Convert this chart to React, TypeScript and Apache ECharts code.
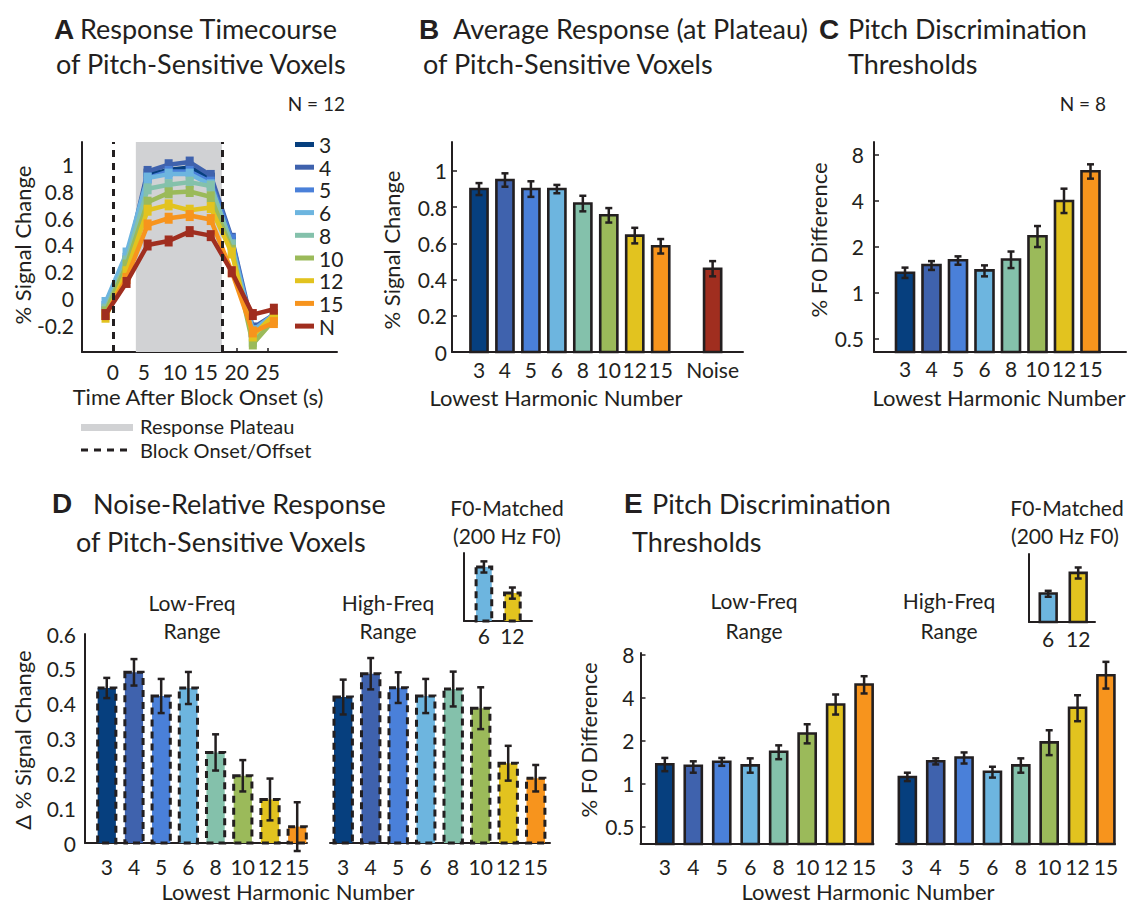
import React, { useEffect, useRef } from 'react';
import * as echarts from 'echarts';

// ---------- shared ----------
const harmonics = ['3', '4', '5', '6', '8', '10', '12', '15'];
const palette = ['#063f7e', '#3f62ad', '#4a80d9', '#6db5df', '#84c1ab', '#9bba5a', '#e2c31f', '#f7941d'];
const noiseColor = '#a02e1f';

// ---------- Panel A: timecourse ----------
const timeSec = [-1.2, 2.2, 5.6, 9.0, 12.4, 15.8, 19.2, 22.6, 26.0];
const timecourseNames = ['3', '4', '5', '6', '8', '10', '12', '15', 'N'];
const tc3 = [-0.12, 0.25, 0.93, 0.96, 0.98, 0.9, 0.42, -0.25, -0.12];
const tc4 = [-0.1, 0.28, 0.95, 1.0, 1.02, 0.92, 0.45, -0.22, -0.12];
const tc5 = [-0.06, 0.3, 0.9, 0.95, 0.95, 0.87, 0.44, -0.25, -0.14];
const tc6 = [-0.03, 0.34, 0.9, 0.93, 0.93, 0.85, 0.4, -0.24, -0.12];
const tc8 = [-0.08, 0.28, 0.82, 0.85, 0.87, 0.84, 0.4, -0.32, -0.15];
const tc10 = [-0.1, 0.25, 0.72, 0.79, 0.8, 0.76, 0.36, -0.34, -0.16];
const tc12 = [-0.14, 0.2, 0.66, 0.7, 0.66, 0.68, 0.34, -0.28, -0.12];
const tc15 = [-0.12, 0.15, 0.55, 0.6, 0.62, 0.59, 0.2, -0.25, -0.18];
const tcN = [-0.12, 0.12, 0.4, 0.43, 0.5, 0.47, 0.2, -0.12, -0.08];
const timecourses = [tc3, tc4, tc5, tc6, tc8, tc10, tc12, tc15, tcN];
const plateauStart = 3.7;
const plateauEnd = 17.6;
const blockOnset = 0;
const blockOffset = 17.6;
const timeTicks = [0, 5, 10, 15, 20, 25];

// ---------- Panel B: average response ----------
const bCategories = [...harmonics, 'Noise'];
const bValues = [0.9, 0.95, 0.9, 0.9, 0.82, 0.755, 0.643, 0.584, 0.46];
const bErr = [0.033, 0.037, 0.043, 0.023, 0.043, 0.04, 0.043, 0.04, 0.042];

// ---------- Panel C: thresholds ----------
const cValues = [1.35, 1.52, 1.63, 1.4, 1.65, 2.34, 3.98, 6.22];
const cLow = [1.25, 1.41, 1.525, 1.28, 1.45, 1.99, 3.32, 5.57];
const cHigh = [1.46, 1.61, 1.73, 1.51, 1.86, 2.73, 4.79, 6.91];

// ---------- Panel D: noise-relative response ----------
const dLowValues = [0.445, 0.49, 0.422, 0.445, 0.26, 0.193, 0.125, 0.047];
const dLowErr = [0.029, 0.038, 0.049, 0.046, 0.052, 0.045, 0.06, 0.07];
const dHighValues = [0.419, 0.486, 0.446, 0.422, 0.442, 0.387, 0.229, 0.186];
const dHighErr = [0.05, 0.045, 0.044, 0.049, 0.05, 0.06, 0.05, 0.038];
const insetCategories = ['6', '12'];
const insetColorIdx = [3, 6];
const dInsetValues = [0.155, 0.08];
const dInsetErr = [0.016, 0.016];

// ---------- Panel E: thresholds by range ----------
const eLowValues = [1.365, 1.33, 1.42, 1.34, 1.67, 2.24, 3.57, 4.93];
const eLowLo = [1.22, 1.19, 1.33, 1.19, 1.48, 1.91, 3.04, 4.27];
const eLowHi = [1.51, 1.43, 1.51, 1.5, 1.85, 2.6, 4.2, 5.64];
const eHighValues = [1.11, 1.43, 1.52, 1.21, 1.34, 1.94, 3.39, 5.73];
const eHighLo = [1.04, 1.36, 1.38, 1.1, 1.19, 1.58, 2.73, 4.62];
const eHighHi = [1.19, 1.5, 1.65, 1.31, 1.5, 2.36, 4.15, 7.11];
const eInsetValues = [1.58, 2.2];
const eInsetLo = [1.5, 2.01];
const eInsetHi = [1.65, 2.4];

// ---------- helpers ----------
const INK = '#231f20';
const FONT = 'Lato';
const TICK_FONT = 21;

const bSlots = bCategories.map((_, i) => (i < harmonics.length ? i : i + 1));
const harmColors = palette;
const bColors = [...palette, noiseColor];
const insetColors = insetColorIdx.map((i) => palette[i]);

function barRender(colors: string[], widthUnits: number, dashed: boolean) {
  return (params: any, api: any) => {
    const i = params.dataIndex;
    const x = api.value(0);
    const v = api.value(1);
    const cs = params.coordSys;
    const l = api.coord([x - widthUnits / 2, v]);
    const r = api.coord([x + widthUnits / 2, v]);
    const bottom = cs.y + cs.height;
    const shape = { x: l[0], y: l[1], width: r[0] - l[0], height: bottom - l[1] };
    if (dashed) {
      return {
        type: 'group',
        children: [
          { type: 'rect', shape, style: { fill: colors[i] } },
          {
            type: 'rect',
            shape,
            style: { fill: 'none', stroke: INK, lineWidth: 3, lineDash: [7, 5] },
          },
        ],
      };
    }
    return { type: 'rect', shape, style: { fill: colors[i], stroke: INK, lineWidth: 2.6 } };
  };
}

function errRender(params: any, api: any) {
  const x = api.value(0);
  const p1 = api.coord([x, api.value(1)]);
  const p2 = api.coord([x, api.value(2)]);
  const cap = 3.5;
  const style = { stroke: INK, lineWidth: 2.5 };
  return {
    type: 'group',
    children: [
      { type: 'line', shape: { x1: p1[0], y1: p1[1], x2: p2[0], y2: p2[1] }, style },
      { type: 'line', shape: { x1: p1[0] - cap, y1: p1[1], x2: p1[0] + cap, y2: p1[1] }, style },
      { type: 'line', shape: { x1: p2[0] - cap, y1: p2[1], x2: p2[0] + cap, y2: p2[1] }, style },
    ],
  };
}

function barSeries(name: string, axis: number, values: number[], slots: number[], colors: string[], w: number, dashed: boolean) {
  return {
    type: 'custom',
    name,
    xAxisIndex: axis,
    yAxisIndex: axis,
    renderItem: barRender(colors, w, dashed),
    data: values.map((v, i) => [slots[i], v]),
    z: 2,
  };
}

function errSeries(name: string, axis: number, lo: number[], hi: number[], slots: number[]) {
  return {
    type: 'custom',
    name,
    xAxisIndex: axis,
    yAxisIndex: axis,
    renderItem: errRender,
    data: lo.map((l, i) => [slots[i], l, hi[i]]),
    z: 3,
  };
}

const axisLine = { show: true, onZero: false, lineStyle: { color: INK, width: 2 } };

function catXAxis(grid: number, min: number, max: number, labels: string[], slots: number[], margin: number) {
  return {
    type: 'value',
    gridIndex: grid,
    min,
    max,
    axisLine,
    splitLine: { show: false },
    axisTick: { show: false },
    axisLabel: {
      customValues: slots,
      formatter: (v: number) => {
        const k = slots.indexOf(Math.round(v));
        return k >= 0 ? labels[k] : '';
      },
      fontSize: TICK_FONT,
      fontFamily: FONT,
      color: INK,
      margin,
    },
  };
}

function txt(text: string, x: number, y: number, size: number, align = 'left', extra: any = {}) {
  return {
    type: 'text',
    x,
    y,
    silent: true,
    style: {
      text,
      fontSize: size,
      fontFamily: FONT,
      fill: INK,
      align,
      textAlign: align,
      verticalAlign: 'middle',
      textVerticalAlign: 'middle',
      ...extra,
    },
  };
}

function vtxt(text: string, x: number, y: number, size: number) {
  return { ...txt(text, x, y, size, 'center'), rotation: Math.PI / 2 };
}

function letter(text: string, x: number, y: number) {
  return txt(text, x, y, 28, 'left', { fontFamily: 'Liberation Sans', fontWeight: 'bold' });
}

const idx8 = harmonics.map((_, i) => i);
const idx2 = insetCategories.map((_, i) => i);

function buildOption(): any {
  const grids = [
    { left: 82, top: 142, width: 255, height: 210 }, // 0 A
    { left: 452, top: 142, width: 291, height: 210 }, // 1 B
    { left: 874, top: 142, width: 252, height: 210 }, // 2 C
    { left: 85, top: 634, width: 222, height: 209 }, // 3 D low
    { left: 330, top: 634, width: 220, height: 209 }, // 4 D high
    { left: 464, top: 553, width: 68, height: 68 }, // 5 D inset
    { left: 640.5, top: 653, width: 233, height: 191 }, // 6 E low
    { left: 896, top: 653, width: 219, height: 191 }, // 7 E high
    { left: 1029, top: 554, width: 66, height: 68 }, // 8 E inset
  ].map((g) => ({ ...g, outerBoundsMode: 'none', containLabel: false }));

  const yLabel = (margin: number) => ({ fontSize: TICK_FONT, fontFamily: FONT, color: INK, margin });
  const inTick = { show: true, inside: true, length: 5, lineStyle: { color: INK, width: 1.5 } };

  const xAxis = [
    {
      type: 'value',
      gridIndex: 0,
      min: -5,
      max: 36.2,
      axisLine,
      splitLine: { show: false },
      axisTick: { show: true, inside: true, length: 4, customValues: timeTicks, lineStyle: { color: INK, width: 1.5 } },
      axisLabel: { customValues: timeTicks, fontSize: TICK_FONT, fontFamily: FONT, color: INK, margin: 9 },
    },
    catXAxis(1, -1.04, 10.17, bCategories, bSlots, 7),
    catXAxis(2, -1.17, 8.34, harmonics, idx8, 6),
    catXAxis(3, -0.8, 7.36, harmonics, idx8, 13),
    catXAxis(4, -0.48, 7.52, harmonics, idx8, 13),
    catXAxis(5, -0.7, 1.69, insetCategories, idx2, 4),
    catXAxis(6, -0.854, 7.33, harmonics, idx8, 12),
    catXAxis(7, -0.4, 7.32, harmonics, idx8, 12),
    catXAxis(8, -0.64, 1.56, insetCategories, idx2, 6),
  ];

  const yAxis = [
    {
      type: 'value', gridIndex: 0, min: -0.4, max: 1.17, interval: 0.2,
      axisLine, splitLine: { show: false }, axisTick: { show: false },
      axisLabel: { ...yLabel(8), showMinLabel: false, showMaxLabel: false },
    },
    {
      type: 'value', gridIndex: 1, min: 0, max: 1.16, interval: 0.2,
      axisLine, splitLine: { show: false }, axisTick: inTick,
      axisLabel: { ...yLabel(5), showMaxLabel: false },
    },
    {
      type: 'log', logBase: 2, gridIndex: 2, min: 0.41, max: 9.67,
      axisLine, splitLine: { show: false }, axisTick: inTick, minorTick: { show: false },
      axisLabel: { ...yLabel(10), showMinLabel: false, showMaxLabel: false },
    },
    {
      type: 'value', gridIndex: 3, min: 0, max: 0.6, interval: 0.1,
      axisLine, splitLine: { show: false }, axisTick: { show: false },
      axisLabel: yLabel(9),
    },
    { type: 'value', gridIndex: 4, min: 0, max: 0.6, show: false },
    {
      type: 'value', gridIndex: 5, min: 0, max: 0.195,
      axisLine, splitLine: { show: false }, axisTick: { show: false }, axisLabel: { show: false },
    },
    {
      type: 'log', logBase: 2, gridIndex: 6, min: 0.377, max: 8.2,
      axisLine, splitLine: { show: false }, axisTick: inTick,
      axisLabel: { ...yLabel(6), showMinLabel: false, showMaxLabel: false },
    },
    { type: 'log', logBase: 2, gridIndex: 7, min: 0.377, max: 8.2, show: false },
    {
      type: 'log', logBase: 2, gridIndex: 8, min: 1, max: 2.98,
      axisLine, splitLine: { show: false }, axisTick: { show: false }, axisLabel: { show: false },
    },
  ];

  const lineColors = [...palette, noiseColor];
  const lineSeries = timecourses.map((vals, k) => {
    const s: any = {
      type: 'line',
      name: timecourseNames[k],
      xAxisIndex: 0,
      yAxisIndex: 0,
      data: vals.map((v, i) => [timeSec[i], v]),
      symbol: 'rect',
      symbolSize: [8, 11],
      showSymbol: true,
      color: lineColors[k],
      lineStyle: { width: 4.5, color: lineColors[k] },
      itemStyle: { color: lineColors[k] },
      z: 3 + k * 0.01,
    };
    if (k === 0) {
      s.markArea = {
        silent: true,
        itemStyle: { color: '#d1d2d4' },
        data: [[{ xAxis: plateauStart }, { xAxis: plateauEnd }]],
      };
      s.markLine = {
        silent: true,
        symbol: ['none', 'none'],
        label: { show: false },
        lineStyle: { color: INK, width: 3, type: [7, 6] },
        data: [{ xAxis: blockOnset }, { xAxis: blockOffset }],
      };
    }
    return s;
  });

  const series = [
    ...lineSeries,
    barSeries('B bars', 1, bValues, bSlots, bColors, 0.66, false),
    errSeries('B err', 1, bValues.map((v, i) => v - bErr[i]), bValues.map((v, i) => v + bErr[i]), bSlots),
    barSeries('C bars', 2, cValues, idx8, harmColors, 0.68, false),
    errSeries('C err', 2, cLow, cHigh, idx8),
    barSeries('D low bars', 3, dLowValues, idx8, harmColors, 0.67, true),
    errSeries('D low err', 3, dLowValues.map((v, i) => v - dLowErr[i]), dLowValues.map((v, i) => v + dLowErr[i]), idx8),
    barSeries('D high bars', 4, dHighValues, idx8, harmColors, 0.67, true),
    errSeries('D high err', 4, dHighValues.map((v, i) => v - dHighErr[i]), dHighValues.map((v, i) => v + dHighErr[i]), idx8),
    barSeries('D inset bars', 5, dInsetValues, idx2, insetColors, 0.55, true),
    errSeries('D inset err', 5, dInsetValues.map((v, i) => v - dInsetErr[i]), dInsetValues.map((v, i) => v + dInsetErr[i]), idx2),
    barSeries('E low bars', 6, eLowValues, idx8, harmColors, 0.6, false),
    errSeries('E low err', 6, eLowLo, eLowHi, idx8),
    barSeries('E high bars', 7, eHighValues, idx8, harmColors, 0.6, false),
    errSeries('E high err', 7, eHighLo, eHighHi, idx8),
    barSeries('E inset bars', 8, eInsetValues, idx2, insetColors, 0.56, false),
    errSeries('E inset err', 8, eInsetLo, eInsetHi, idx2),
  ];

  const graphic = [
    // titles
    letter('A', 54, 29),
    txt('Response Timecourse', 80, 28, 27),
    txt('of Pitch-Sensitive Voxels', 56, 63, 27),
    letter('B', 419, 29),
    txt('Average Response (at Plateau)', 453, 28, 27),
    txt('of Pitch-Sensitive Voxels', 423, 63, 27),
    letter('C', 819, 29),
    txt('Pitch Discrimination', 848, 28, 27),
    txt('Thresholds', 848, 63, 27),
    txt('N = 12', 345, 103, 19, 'right'),
    txt('N = 8', 1106, 103, 19, 'right'),
    letter('D', 52, 503),
    txt('Noise-Relative Response', 93, 503, 27),
    txt('of Pitch-Sensitive Voxels', 76, 541, 27),
    letter('E', 624, 503),
    txt('Pitch Discrimination', 652, 503, 27),
    txt('Thresholds', 632, 541, 27),
    // axis titles
    vtxt('% Signal Change', 22, 245, 22),
    vtxt('% Signal Change', 391, 250, 22),
    vtxt('% F0 Difference', 818, 240, 22),
    vtxt('Δ % Signal Change', 22, 740, 22),
    vtxt('% F0 Difference', 588, 740, 22),
    txt('Time After Block Onset (s)', 198, 396, 22, 'center'),
    txt('Lowest Harmonic Number', 556, 397, 22, 'center'),
    txt('Lowest Harmonic Number', 999, 397, 22, 'center'),
    txt('Lowest Harmonic Number', 288, 891, 22, 'center'),
    txt('Lowest Harmonic Number', 868, 891, 22, 'center'),
    // group labels
    txt('Low-Freq', 192, 602, 21, 'center'),
    txt('Range', 192, 630, 21, 'center'),
    txt('High-Freq', 388, 602, 21, 'center'),
    txt('Range', 388, 630, 21, 'center'),
    txt('F0-Matched', 507, 507, 21, 'center'),
    txt('(200 Hz F0)', 507, 535, 21, 'center'),
    txt('Low-Freq', 754, 600, 21, 'center'),
    txt('Range', 754, 630, 21, 'center'),
    txt('High-Freq', 949, 600, 21, 'center'),
    txt('Range', 949, 630, 21, 'center'),
    txt('F0-Matched', 1067, 507, 21, 'center'),
    txt('(200 Hz F0)', 1065, 535, 21, 'center'),
    // panel A key
    { type: 'rect', silent: true, shape: { x: 81, y: 424, width: 52, height: 7 }, style: { fill: '#d1d2d4' } },
    txt('Response Plateau', 140, 426, 20),
    {
      type: 'line',
      silent: true,
      shape: { x1: 81, y1: 450, x2: 131, y2: 450 },
      style: { stroke: INK, lineWidth: 3, lineDash: [7, 6] },
    },
    txt('Block Onset/Offset', 140, 450, 20),
  ];

  return {
    animation: false,
    backgroundColor: '#ffffff',
    textStyle: { fontFamily: FONT, color: INK },
    grid: grids,
    xAxis,
    yAxis,
    legend: {
      data: timecourseNames,
      orient: 'vertical',
      left: 295,
      top: 134,
      icon: 'rect',
      itemWidth: 19,
      itemHeight: 5,
      itemGap: 1.7,
      padding: 0,
      selectedMode: false,
      textStyle: { fontSize: 21, fontFamily: FONT, color: INK },
    },
    series,
    graphic,
  };
}

export default function App() {
  const ref = useRef<HTMLDivElement>(null);
  useEffect(() => {
    if (!ref.current) return;
    const chart = echarts.init(ref.current, undefined, { renderer: 'svg' });
    chart.setOption(buildOption());
    return () => chart.dispose();
  }, []);
  return (
    <div
      ref={ref}
      style={{ position: 'fixed', left: 0, top: 0, width: 1128, height: 905, background: '#fff' }}
    />
  );
}
